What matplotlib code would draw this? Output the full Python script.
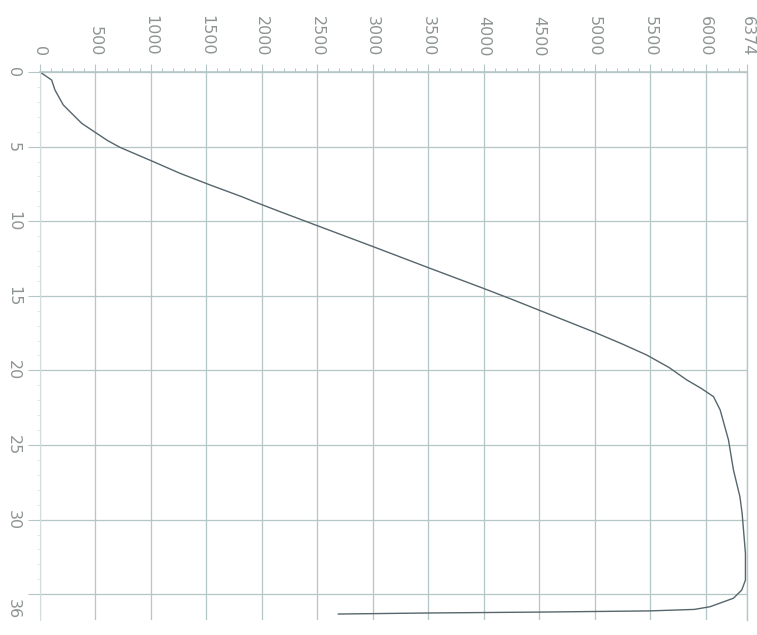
import matplotlib
matplotlib.use("Agg")
import matplotlib.pyplot as plt

# cumulative curve: position along the run (0-36) vs accumulated value (0-6374)
t_values = [0, 0.54, 1.21, 2.21, 2.88, 3.44, 4.11, 4.60, 5.05, 6.01, 6.79, 7.57,
            8.36, 8.69, 9.36, 10.37, 11.71, 13.16, 14.50, 15.21, 15.95, 17.41,
            18.20, 18.97, 19.80, 20.64, 21.20, 21.76, 22.65, 24.66, 26.68,
            28.46, 29.58, 32.26, 34.05, 34.72, 35.27, 35.84, 36.02, 36.12,
            36.20, 36.26, 36.33]
cum_values = [0, 105, 135, 210, 300, 376, 511, 610, 721, 1022, 1262, 1533,
              1820, 1930, 2164, 2525, 3005, 3517, 3997, 4245, 4495, 4989,
              5240, 5470, 5670, 5831, 5960, 6072, 6132, 6207, 6252,
              6310, 6330, 6360, 6360, 6327, 6252, 6041, 5900, 5500,
              4500, 3500, 2690]

value_ticks = [0, 500, 1000, 1500, 2000, 2500, 3000, 3500, 4000, 4500, 5000,
               5500, 6000, 6374]
value_labels = ["0", "500", "1000", "1500", "2000", "2500", "3000", "3500",
                "4000", "4500", "5000", "5500", "6000", "6374"]
t_ticks = [0, 5, 10, 15, 20, 25, 30, 35, 36]
t_labels = ["0", "5", "10", "15", "20", "25", "30", "", "36"]

grid_col = "#b4c6c6"
label_col = "#8e9494"
line_col = "#56666c"

fig = plt.figure(figsize=(7.57, 6.35), dpi=100)
ax = fig.add_axes([40 / 757, 1 - 620 / 635, 707 / 757, 548 / 635])

ax.plot(cum_values, t_values, color=line_col, lw=1.0)

ax.set_xlim(0, 6374)
ax.set_ylim(36.73, 0)

ax.xaxis.tick_top()
ax.set_xticks(value_ticks)
ax.set_xticklabels(value_labels, rotation=-90, color=label_col, fontsize=11.5)
ax.set_xticks(range(0, 6374, 100), minor=True)
ax.set_yticks(t_ticks)
ax.set_yticklabels(t_labels, rotation=-90, color=label_col, fontsize=11.5,
                   va="center")
ax.set_yticks(range(0, 37), minor=True)

ax.tick_params(axis="x", which="major", direction="out", length=5.5, width=0.8,
               color=grid_col, pad=6)
ax.tick_params(axis="x", which="minor", direction="out", length=3, width=0.7,
               color=grid_col)
ax.tick_params(axis="y", which="major", direction="out", length=8.5, width=0.8,
               color=grid_col, pad=5)
ax.tick_params(axis="y", which="minor", direction="out", length=2, width=0.5,
               color="#d4dede")

ax.grid(True, which="major", color=grid_col, lw=0.9)
# the closing 36 mark carries a label only
ax.get_ygridlines()[-1].set_visible(False)
ax.yaxis.get_major_ticks()[-1].tick1line.set_visible(False)

ax.spines["bottom"].set_visible(False)
ax.spines["top"].set_color(grid_col)
ax.spines["top"].set_linewidth(1.2)
ax.spines["left"].set_color("#d4dede")
ax.spines["left"].set_linewidth(0.8)
ax.spines["right"].set_color(grid_col)
ax.spines["right"].set_linewidth(1.0)

fig.savefig("out.png", dpi=100, facecolor="white")
